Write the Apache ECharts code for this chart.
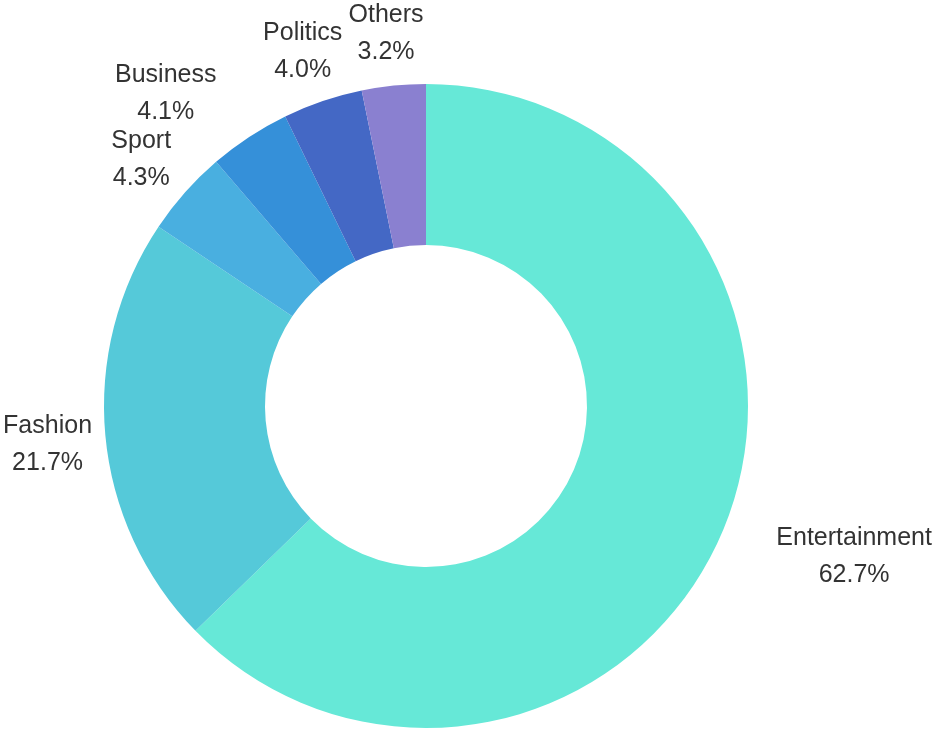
<!DOCTYPE html>
<html>
<head>
<meta charset="utf-8">
<script src="https://cdn.jsdelivr.net/npm/echarts@6/dist/echarts.min.js"></script>
<style>
html,body{margin:0;padding:0;background:#fff;}
#chart{width:937px;height:732px;}
</style>
</head>
<body>
<div id="chart"></div>
<script>
var categories = ['Entertainment', 'Fashion', 'Sport', 'Business', 'Politics', 'Others'];
var shares = [62.7, 21.7, 4.3, 4.1, 4.0, 3.2];

var sliceColors = ['#66e8d7', '#55c9d9', '#49afe0', '#3590d9', '#4468c5', '#8a80d0'];
var labelAlign = ['left', 'center', 'center', 'right', 'center', 'center'];

var chart = echarts.init(document.getElementById('chart'));
var data = categories.map(function (name, i) {
  return { name: name, value: shares[i], itemStyle: { color: sliceColors[i] } };
});

var txt = {
  fontFamily: '"Liberation Sans", Arial, Helvetica, sans-serif',
  fontSize: 25,
  lineHeight: 37,
  color: '#333333',
  align: 'center'
};

chart.setOption({
  backgroundColor: '#ffffff',
  animation: false,
  series: [{
    type: 'pie',
    center: [426, 406],
    radius: [161, 322],
    startAngle: 90,
    clockwise: true,
    avoidLabelOverlap: false,
    data: data,
    label: {
      show: true,
      position: 'outside',
      distanceToLabelLine: 2,
      overflow: 'none',
      offset: [0, 4],
      fontFamily: txt.fontFamily,
      fontSize: 25,
      lineHeight: 37,
      color: '#333333',
      formatter: function (p) { return '{t|' + p.name + '}\n{t|' + p.value.toFixed(1) + '%}'; },
      rich: { t: txt }
    },
    labelLine: { show: false, length: 56, length2: 0 },
    emphasis: { disabled: true },
    labelLayout: function (params) {
      var r = params.labelRect;
      var anchor = params.align === 'left' ? r.x : (params.align === 'right' ? r.x + r.width : r.x + r.width / 2);
      return { x: anchor, align: labelAlign[params.dataIndex] };
    }
  }]
});
</script>
</body>
</html>
